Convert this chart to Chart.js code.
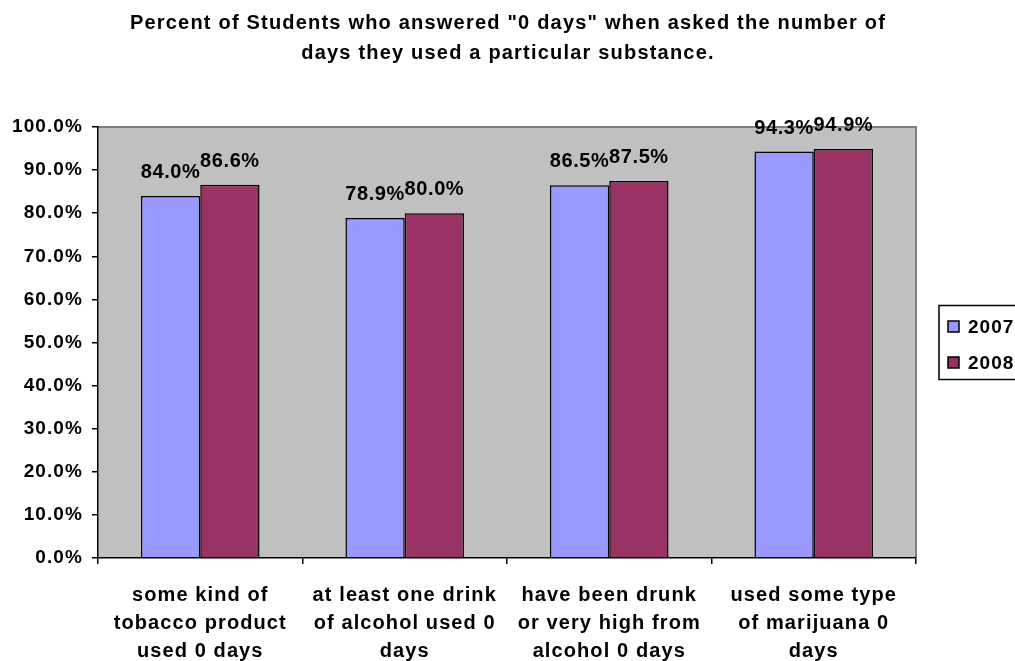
<!DOCTYPE html>
<html>
<head>
<meta charset="utf-8">
<script src="https://cdn.jsdelivr.net/npm/chart.js@4"></script>
<style>
  html, body { margin: 0; padding: 0; background: #fff; }
  #wrap { width: 1015px; height: 661px; }
</style>
</head>
<body>
<div id="wrap"><canvas id="chart" width="1015" height="661"></canvas></div>
<script>
const titleLines = ['Percent of Students who answered "0 days" when asked the number of', 'days they used a particular substance.'];
const categories = [
    ['some kind of', 'tobacco product', 'used 0 days'],
    ['at least one drink', 'of alcohol used 0', 'days'],
    ['have been drunk', 'or very high from', 'alcohol 0 days'],
    ['used some type', 'of marijuana 0', 'days']
];
const seriesNames = ['2007', '2008'];
const values2007 = [84.0, 78.9, 86.5, 94.3];
const values2008 = [86.6, 80.0, 87.5, 94.9];
const seriesColors = ['#9999FF', '#993366'];

const FONT = '"Liberation Sans", Arial, sans-serif';

// Gray plot area with Excel style border
const plotBackground = {
    id: 'plotBackground',
    beforeDraw(chart) {
        const { ctx, chartArea: a } = chart;
        ctx.save();
        ctx.fillStyle = '#C0C0C0';
        ctx.fillRect(a.left, a.top, a.right - a.left, a.bottom - a.top);
        ctx.strokeStyle = '#808080';
        ctx.lineWidth = 2;
        ctx.beginPath();
        ctx.moveTo(a.left, a.top);
        ctx.lineTo(a.right, a.top);
        ctx.lineTo(a.right, a.bottom);
        ctx.stroke();
        ctx.restore();
        // wide text like the original, used by the axis labels
        ctx.letterSpacing = '1.1px';
    }
};

// Value labels above each bar
const barLabels = {
    id: 'barLabels',
    afterDatasetsDraw(chart) {
        const ctx = chart.ctx;
        ctx.save();
        ctx.letterSpacing = '0.6px';
        ctx.font = 'bold 20px ' + FONT;
        ctx.fillStyle = '#000';
        ctx.textAlign = 'center';
        ctx.textBaseline = 'alphabetic';
        chart.data.datasets.forEach((ds, i) => {
            chart.getDatasetMeta(i).data.forEach((bar, j) => {
                ctx.fillText(ds.data[j].toFixed(1) + '%', bar.x, bar.y - 18);
            });
        });
        ctx.restore();
    }
};

// Title and boxed legend on the right
const titleAndLegend = {
    id: 'titleAndLegend',
    afterDraw(chart) {
        const { ctx, chartArea: a } = chart;
        ctx.save();
        ctx.letterSpacing = '1.2px';
        ctx.font = 'bold 20px ' + FONT;
        ctx.fillStyle = '#000';
        ctx.textAlign = 'center';
        ctx.textBaseline = 'alphabetic';
        titleLines.forEach((line, i) => ctx.fillText(line, 508, 29 + i * 30));

        const bx = a.right + 23, bh = 74;
        const by = (a.top + a.bottom) / 2 - bh / 2;
        ctx.strokeStyle = '#000';
        ctx.lineWidth = 1.5;
        ctx.strokeRect(bx, by, 200, bh);
        ctx.font = 'bold 19px ' + FONT;
        ctx.textAlign = 'left';
        ctx.textBaseline = 'middle';
        ctx.letterSpacing = '1px';
        chart.data.datasets.forEach((ds, i) => {
            const cy = by + 21 + i * 36;
            ctx.fillStyle = ds.backgroundColor;
            ctx.fillRect(bx + 9, cy - 5.5, 11, 11);
            ctx.lineWidth = 1.5;
            ctx.strokeRect(bx + 9, cy - 5.5, 11, 11);
            ctx.fillStyle = '#000';
            ctx.fillText(ds.label, bx + 29, cy + 1);
        });
        ctx.restore();
    }
};

new Chart(document.getElementById('chart'), {
    type: 'bar',
    data: {
        labels: categories,
        datasets: [
            { label: seriesNames[0], data: values2007, backgroundColor: seriesColors[0] },
            { label: seriesNames[1], data: values2008, backgroundColor: seriesColors[1] }
        ]
    },
    options: {
        responsive: false,
        animation: false,
        events: [],
        layout: { padding: { top: 127, right: 99, left: 0, bottom: 0 } },
        datasets: {
            bar: {
                borderColor: '#000',
                borderWidth: 1.5,
                categoryPercentage: 0.58,
                barPercentage: 1
            }
        },
        plugins: {
            legend: { display: false },
            title: { display: false },
            tooltip: { enabled: false }
        },
        scales: {
            y: {
                min: 0,
                max: 100,
                afterFit: s => { s.width = 98; },
                ticks: {
                    stepSize: 10,
                    padding: 9,
                    color: '#000',
                    font: { family: FONT, size: 19, weight: 'bold' },
                    callback: v => v.toFixed(1) + '%'
                },
                grid: { drawOnChartArea: false, tickLength: 6, color: '#000', lineWidth: 1.5 },
                border: { color: '#000', width: 1.5 }
            },
            x: {
                afterFit: s => { s.height = 103; },
                ticks: {
                    padding: 17,
                    color: '#000',
                    maxRotation: 0,
                    autoSkip: false,
                    font: { family: FONT, size: 20, weight: 'bold', lineHeight: '28px' }
                },
                grid: { drawOnChartArea: false, tickLength: 6, color: '#000', lineWidth: 1.5 },
                border: { color: '#000', width: 1.5 }
            }
        }
    },
    plugins: [plotBackground, barLabels, titleAndLegend]
});
</script>
</body>
</html>
